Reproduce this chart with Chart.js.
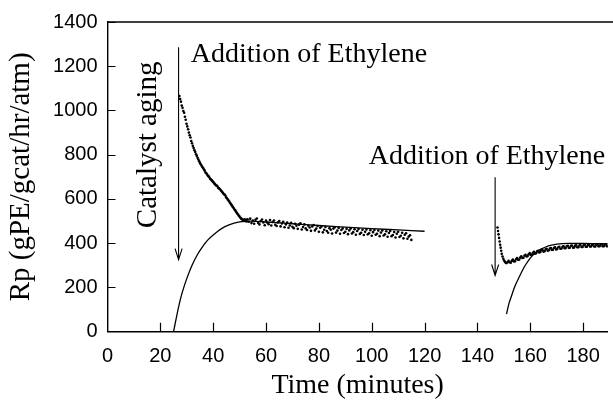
<!DOCTYPE html>
<html>
<head>
<meta charset="utf-8">
<title>Rp vs time</title>
<script src="https://cdn.jsdelivr.net/npm/chart.js@4.4.1/dist/chart.umd.min.js"></script>
<style>
  html, body { margin: 0; padding: 0; background: #fff; }
  #wrap { width: 613px; height: 410px; }
</style>
</head>
<body>
<div id="wrap"><canvas id="c" width="613" height="410"></canvas></div>
<script>
// Polymerization rate Rp (gPE/gcat/hr/atm) against time (minutes).
// Measured rate after each ethylene addition, as [time, rate] pairs.
const measuredRun1 = [
  [27.2,1065],[27.5,1052],[27.8,1040],[28.1,1022],[28.4,1012],[28.7,998],[29.0,990],[29.3,972],
  [29.6,958],[29.9,940],[30.2,928],[30.5,915],[30.8,900],[31.1,888],[31.4,878],[31.7,862],
  [32.0,852],[32.3,840],[32.6,830],[32.9,820],[33.2,812],[33.5,802],[33.8,795],[34.1,786],
  [34.4,778],[34.7,770],[35.0,763],[35.3,757],[35.6,750],[35.9,744],[36.2,740],[36.5,733],
  [36.8,728],[37.1,720],[37.4,716],[37.7,711],[38.0,705],[38.3,702],[38.6,697],[38.9,690],
  [39.2,688],[39.5,684],[39.8,679],[40.1,676],[40.4,670],[40.7,668],[41.0,662],[41.3,661],
  [41.6,657],[41.9,650],[42.2,648],[42.5,645],[42.8,640],[43.1,636],[43.4,632],[43.7,627],
  [44.0,622],[44.3,620],[44.6,616],[44.9,608],[45.2,603],[45.5,598],[45.8,593],[46.1,588],
  [46.4,582],[46.7,577],[47.0,572],[47.3,566],[47.6,561],[47.9,556],[48.2,550],[48.5,546],
  [48.8,540],[49.1,534],[49.4,530],[49.7,524],[50.0,520],[50.3,515],[50.6,512],[50.9,508],
  [51.2,505],[51.5,503],[51.8,508],[52.1,500],[52.4,506],[52.7,498],
  [53.0,508],[53.5,497],[54.0,511],[54.5,491],[55.0,503],[55.5,488],[56.0,506],[56.5,512],
  [57.0,492],[57.5,485],[58.0,500],[58.5,507],[59.0,494],[59.5,481],[60.0,502],[60.5,493],
  [61.0,486],[61.5,505],[62.0,480],[62.5,496],[63.0,503],[63.5,483],[64.0,478],[64.5,494],
  [65.0,500],[65.5,476],[66.0,489],[66.5,497],[67.0,472],[67.5,485],[68.0,493],[68.5,470],
  [69.0,480],[69.5,492],[70.0,474],[70.5,468],[71.0,488],[71.5,479],[72.0,465],[72.5,484],
  [73.0,490],[73.5,462],[74.0,473],[74.5,485],[75.0,467],[75.5,460],[76.0,479],[76.5,471],
  [77.0,456],[77.5,476],[78.0,482],[78.5,458],[79.0,466],[79.5,478],[80.0,452],[80.5,470],
  [81.0,476],[81.5,449],[82.0,461],[82.5,473],[83.0,455],[83.5,447],[84.0,468],[84.5,461],
  [85.0,444],[85.5,466],[86.0,472],[86.5,448],[87.0,457],[87.5,469],[88.0,443],[88.5,460],
  [89.0,467],[89.5,446],[90.0,452],[90.5,465],[91.0,441],[91.5,458],[92.0,466],[92.5,444],
  [93.0,450],[93.5,463],[94.0,438],[94.5,455],[95.0,464],[95.5,442],[96.0,447],[96.5,461],
  [97.0,437],[97.5,452],[98.0,462],[98.5,440],[99.0,445],[99.5,459],[100.0,434],[100.5,450],
  [101.0,460],[101.5,438],[102.0,443],[102.5,457],[103.0,432],[103.5,448],[104.0,458],[104.5,435],
  [105.0,440],[105.5,454],[106.0,429],[106.5,446],[107.0,455],[107.5,432],[108.0,437],[108.5,451],
  [109.0,426],[109.5,443],[110.0,452],[110.5,428],[111.0,434],[111.5,447],[112.0,422],[112.5,438],
  [113.0,445],[113.5,420],[114.0,430],[114.5,436],[115.0,415]
];

const measuredRun2 = [
  [147.6,471],[147.8,455],[148.0,440],[148.2,424],[148.4,408],[148.6,393],[148.8,380],[149.0,366],
  [149.2,352],[149.5,340],[149.8,330],[150.1,322],[150.4,316],[150.7,312],[151.0,310],[151.4,314],
  [151.8,320],[152.2,314],[152.6,312],[153.0,320],[153.4,326],[153.8,318],[154.2,318],[154.6,327],
  [155.0,333],[155.4,325],[155.8,326],[156.2,335],[156.6,341],[157.0,333],[157.4,334],[157.8,343],
  [158.2,348],[158.6,340],[159.0,342],[159.4,350],[159.8,355],[160.2,347],[160.6,349],[161.0,357],
  [161.4,361],[161.8,353],[162.2,355],[162.6,363],[163.0,366],[163.4,358],[163.8,360],[164.2,368],
  [164.6,371],[165.0,362],[165.4,364],[165.8,372],[166.2,375],[166.6,366],[167.0,368],[167.4,376],
  [167.8,378],[168.2,369],[168.6,371],[169.0,379],[169.4,381],[169.8,372],[170.2,374],[170.6,382],
  [171.0,384],[171.4,375],[171.8,376],[172.2,384],[172.6,386],[173.0,377],[173.4,378],[173.8,386],
  [174.2,388],[174.6,379],[175.0,380],[175.4,388],[175.8,390],[176.2,380],[176.6,381],[177.0,389],
  [177.4,391],[177.8,382],[178.2,382],[178.6,390],[179.0,392],[179.4,383],[179.8,383],[180.2,391],
  [180.6,393],[181.0,384],[181.4,384],[181.8,392],[182.2,393],[182.6,385],[183.0,385],[183.4,392],
  [183.8,394],[184.2,385],[184.6,385],[185.0,393],[185.4,394],[185.8,386],[186.2,386],[186.6,393],
  [187.0,395],[187.4,386],[187.8,386],[188.2,393],[188.6,395],[189.0,386],[189.4,387],[189.8,394]
];

// Model rate curves, as [time, rate] pairs.
const modelRun1 = [
  [25,0],[26,60],[27,117],[28,165],[29,205],[30,240],[32,300],[34,348],[36,385],[38,415],
  [40,437],[43,465],[46,483],[50,496],[54,500],[60,496],[70,488],[80,480],[90,473],[100,466],
  [110,460],[120,454]
];
const modelRun2 = [
  [151,80],[152,130],[153,165],[154,200],[156,252],[158,298],[160,333],[162,357],[164,373],
  [166,384],[168,391],[170,396],[175,399],[180,399],[185,398],[190,397]
];

// Axis tick values
const xTickValues = [0, 20, 40, 60, 80, 100, 120, 140, 160, 180];
const yTickValues = [0, 200, 400, 600, 800, 1000, 1200, 1400];

// Text notes and arrows, placed in data units
const notes = [
  { text: 'Addition of Ethylene', t: 31.5, v: 1220, vertical: false },
  { text: 'Addition of Ethylene', t: 98.9, v: 758, vertical: false },
  { text: 'Catalyst aging', t: 18.5, v: 468, vertical: true }
];
const arrows = [
  { t: 26.9, from: 1286, to: 326 },
  { t: 146.7, from: 698, to: 254 }
];

const toXY = pairs => pairs.map(([t, v]) => ({ x: t, y: v }));

// Inward tick marks, top frame line, notes and arrows
const framePlugin = {
  id: 'frame',
  afterDatasetsDraw(chart) {
    const { ctx, chartArea: a, scales: { x, y } } = chart;
    ctx.save();
    ctx.strokeStyle = '#000';
    ctx.lineWidth = 1.2;
    ctx.beginPath();
    xTickValues.forEach(v => {
      if (v === 0) return;
      const px = Math.round(x.getPixelForValue(v)) + 0.5;
      ctx.moveTo(px, a.bottom);
      ctx.lineTo(px, a.bottom - 9);
    });
    yTickValues.forEach(v => {
      if (v === 0) return;
      const py = Math.round(y.getPixelForValue(v)) + 0.5;
      ctx.moveTo(a.left, py);
      ctx.lineTo(a.left + 8, py);
    });
    ctx.stroke();

    // top frame
    ctx.lineWidth = 1.4;
    ctx.beginPath();
    ctx.moveTo(a.left, a.top);
    ctx.lineTo(chart.width, a.top);
    ctx.stroke();

    // arrows
    ctx.lineWidth = 1.1;
    arrows.forEach(ar => {
      const px = x.getPixelForValue(ar.t);
      const y0 = y.getPixelForValue(ar.from);
      const y1 = y.getPixelForValue(ar.to);
      ctx.beginPath();
      ctx.moveTo(px, y0);
      ctx.lineTo(px, y1);
      ctx.moveTo(px - 3.5, y1 - 11);
      ctx.lineTo(px, y1);
      ctx.lineTo(px + 3.5, y1 - 11);
      ctx.stroke();
    });

    // notes
    ctx.fillStyle = '#000';
    ctx.textAlign = 'left';
    ctx.textBaseline = 'alphabetic';
    notes.forEach(n => {
      const px = x.getPixelForValue(n.t);
      const py = y.getPixelForValue(n.v);
      if (n.vertical) {
        ctx.font = '29px "Liberation Serif"';
        ctx.save();
        ctx.translate(px, py);
        ctx.rotate(-Math.PI / 2);
        ctx.fillText(n.text, 0, 0);
        ctx.restore();
      } else {
        ctx.font = '28px "Liberation Serif"';
        ctx.fillText(n.text, px, py);
      }
    });
    ctx.restore();
  }
};

const dotStyle = {
  showLine: false,
  pointRadius: 1.3,
  pointBackgroundColor: '#000',
  pointBorderWidth: 0
};
const curveStyle = {
  showLine: true,
  borderColor: '#000',
  borderWidth: 1.3,
  pointRadius: 0,
  cubicInterpolationMode: 'monotone',
  fill: false
};

new Chart(document.getElementById('c'), {
  type: 'scatter',
  data: {
    datasets: [
      { label: 'Measured', data: toXY(measuredRun1), ...dotStyle },
      { label: 'Measured', data: toXY(measuredRun2), ...dotStyle },
      { label: 'Model', data: toXY(modelRun1), ...curveStyle },
      { label: 'Model', data: toXY(modelRun2), ...curveStyle }
    ]
  },
  options: {
    responsive: false,
    animation: false,
    devicePixelRatio: 1,
    events: [],
    layout: { padding: { top: 19.5, right: 0, bottom: 0, left: 0 } },
    plugins: { legend: { display: false }, tooltip: { enabled: false } },
    scales: {
      x: {
        type: 'linear',
        min: 0,
        max: 189.3,
        afterBuildTicks: s => { s.ticks = xTickValues.map(v => ({ value: v })); },
        afterFit: s => { s.height = 78.3; },
        grid: { drawOnChartArea: false, drawTicks: false },
        border: { display: true, color: '#000', width: 1.4 },
        ticks: {
          color: '#000',
          font: { family: 'Liberation Sans', size: 20 },
          padding: 13,
          maxRotation: 0,
          autoSkip: false,
          callback: v => String(v)
        },
        title: {
          display: true,
          text: 'Time (minutes)',
          color: '#000',
          font: { family: 'Liberation Serif', size: 28 },
          padding: { top: 0, bottom: 8 }
        }
      },
      y: {
        type: 'linear',
        min: 0,
        max: 1400,
        afterBuildTicks: s => { s.ticks = yTickValues.map(v => ({ value: v })); },
        afterFit: s => { s.width = 107.5; },
        grid: { drawOnChartArea: false, drawTicks: false },
        border: { display: true, color: '#000', width: 1.4 },
        ticks: {
          color: '#000',
          font: { family: 'Liberation Sans', size: 20 },
          padding: 10,
          autoSkip: false,
          callback: v => String(v)
        },
        title: {
          display: true,
          text: 'Rp (gPE/gcat/hr/atm)',
          color: '#000',
          font: { family: 'Liberation Serif', size: 29 },
          padding: { top: 4, bottom: 0 }
        }
      }
    }
  },
  plugins: [framePlugin]
});
</script>
</body>
</html>
